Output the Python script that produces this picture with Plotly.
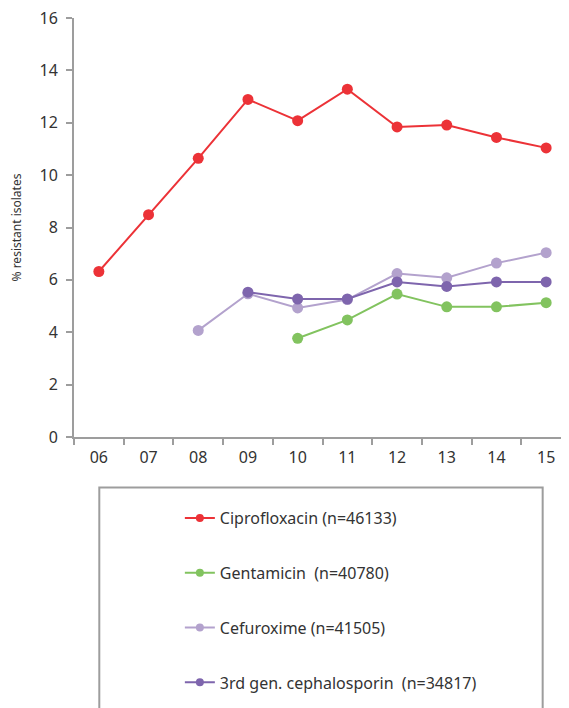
import plotly.graph_objects as go

years = ["06", "07", "08", "09", "10", "11", "12", "13", "14", "15"]
ciprofloxacin = [6.32, 8.49, 10.64, 12.89, 12.08, 13.28, 11.84, 11.91, 11.44, 11.04]
gentamicin = [None, None, None, None, 3.77, 4.47, 5.46, 4.97, 4.97, 5.13]
cefuroxime = [None, None, 4.07, 5.47, 4.93, 5.25, 6.24, 6.08, 6.64, 7.04]
cephalosporin3 = [None, None, None, 5.53, 5.27, 5.27, 5.92, 5.75, 5.92, 5.92]

series_names = [
    "Ciprofloxacin (n=46133)",
    "Gentamicin  (n=40780)",
    "Cefuroxime (n=41505)",
    "3rd gen. cephalosporin  (n=34817)",
]
series_values = [ciprofloxacin, gentamicin, cefuroxime, cephalosporin3]
colors = ["#ec3237", "#82c35f", "#b3a2cd", "#7e65ad"]

FONT = "Noto Sans, Open Sans, sans-serif"
TEXT = "#333333"
AXIS = "#9d9d9d"

fig = go.Figure()
for i, (name, vals, col) in enumerate(zip(series_names, series_values, colors)):
    fig.add_trace(go.Scatter(
        x=years, y=vals, name=name, mode="lines+markers",
        line=dict(color=col, width=2),
        marker=dict(color=col, size=11),
        legendgroup=f"g{i}", showlegend=False,
        connectgaps=False,
    ))
# legend entries with smaller markers
for i, (name, col) in enumerate(zip(series_names, colors)):
    fig.add_trace(go.Scatter(
        x=[None], y=[None], name=name, mode="lines+markers",
        line=dict(color=col, width=2),
        marker=dict(color=col, size=8),
        legendgroup=f"g{i}", showlegend=True,
    ))

# plot area: top at 10px, bottom at 429px of the figure
PT, PB = 10, 429
PH = PB - PT
H = 708

def py(pix):
    """figure pixel row -> paper y coordinate"""
    return (PB - pix) / PH

fig.update_layout(
    width=569, height=H,
    margin=dict(l=66, r=6, t=PT, b=H - PB, autoexpand=False),
    paper_bgcolor="white", plot_bgcolor="white",
    font=dict(family=FONT, color=TEXT, size=16),
    showlegend=True,
    legend=dict(
        x=0.213, xanchor="left", y=py(493), yanchor="top",
        bgcolor="rgba(0,0,0,0)", borderwidth=0,
        font=dict(family=FONT, size=16, color=TEXT),
        tracegroupgap=31,
    ),
    shapes=[dict(
        type="rect", xref="paper", yref="paper",
        x0=0.0509, x1=0.943, y0=py(479.5), y1=py(760),
        line=dict(color=AXIS, width=2), fillcolor="rgba(0,0,0,0)",
    )],
)

fig.update_xaxes(
    type="category", range=[-0.5, 9.5],
    showline=True, linecolor=AXIS, linewidth=2,
    ticks="outside", tickson="boundaries", ticklen=6, tickwidth=2, tickcolor=AXIS,
    showgrid=False, zeroline=False,
    tickfont=dict(family=FONT, size=16, color=TEXT),
    ticklabelstandoff=5,
)
fig.update_yaxes(
    range=[0, 16], dtick=2, tick0=0,
    showline=True, linecolor=AXIS, linewidth=2,
    ticks="outside", ticklen=6, tickwidth=2, tickcolor=AXIS,
    showgrid=False, zeroline=False,
    tickfont=dict(family=FONT, size=16, color=TEXT),
    ticklabelstandoff=5, ticklabeloverflow="allow",
    title=dict(text="% resistant isolates", font=dict(family=FONT, size=12, color=TEXT), standoff=15),
)

fig.write_html("out.html")
